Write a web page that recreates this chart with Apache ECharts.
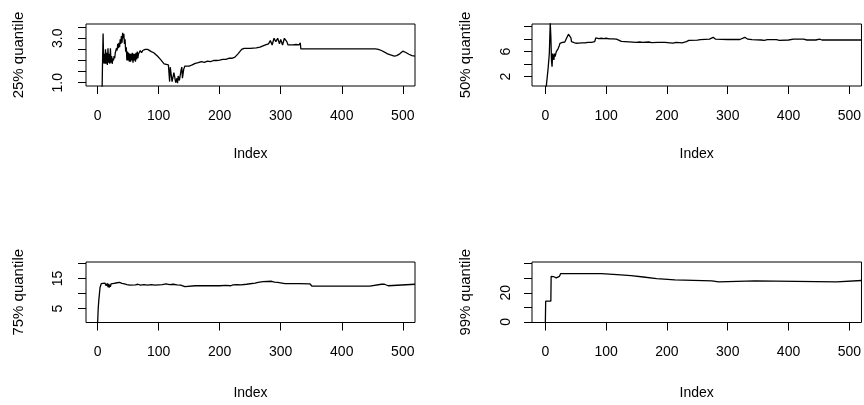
<!DOCTYPE html>
<html>
<head>
<meta charset="utf-8">
<script src="https://cdn.jsdelivr.net/npm/echarts@6/dist/echarts.min.js"></script>
<style>
html,body{margin:0;padding:0;background:#fff;}
#chart{width:864px;height:405px;}
</style>
</head>
<body>
<div id="chart"></div>
<script>
// ---- data (index, value) ----
const q25 = [[1,0],[7,0],[8,1.8],[9,3.22],[10,1.87],[11,2.3],[12,1.85],[13,2.5],[14,1.85],[15,2.35],[16,1.8],[17,2.55],[18,1.9],[19,2.3],[20,1.85],[21,2.55],[22,1.9],[23,2.2],[24,1.85],[25,2.1],[26,2.0],[27,2.2],[28,2.1],[29,2.35],[30,2.3],[31,2.55],[32,2.45],[33,2.75],[34,2.55],[35,2.8],[36,2.6],[37,2.95],[38,2.75],[39,3.1],[40,2.8],[41,3.25],[42,3.0],[43,3.2],[44,2.75],[45,2.95],[46,2.4],[47,2.6],[48,2.0],[49,2.4],[50,2.0],[51,2.35],[52,1.95],[53,2.3],[54,1.95],[55,2.3],[56,2.0],[57,2.35],[58,1.9],[59,2.3],[60,2.0],[61,2.3],[62,1.95],[63,2.35],[64,2.05],[65,2.4],[66,2.1],[67,2.3],[68,2.35],[70,2.45],[72,2.35],[74,2.45],[76,2.4],[78,2.5],[80,2.55],[82,2.5],[85,2.45],[88,2.4],[92,2.35],[95,2.3],[98,2.2],[100,2.15],[103,2.05],[106,1.95],[109,1.85],[112,1.8],[116,1.8],[118,1.05],[119,1.7],[121,1.72],[122,1.05],[124,1.05],[125,1.45],[127,1.45],[128,1.0],[130,1.2],[131,0.98],[132,1.3],[134,1.1],[135,1.05],[137,1.6],[138,1.7],[139,1.2],[140,1.4],[141,1.6],[143,1.75],[145,1.75],[150,1.75],[155,1.8],[158,1.85],[160,1.87],[163,1.84],[165,1.9],[170,1.95],[172,1.9],[175,1.92],[180,1.97],[183,1.93],[185,1.95],[190,2.0],[195,2.0],[198,1.97],[200,2.02],[205,2.05],[208,2.02],[210,2.05],[215,2.1],[220,2.1],[225,2.15],[230,2.3],[233,2.4],[236,2.5],[240,2.55],[250,2.55],[260,2.57],[266,2.6],[270,2.65],[275,2.7],[280,2.75],[283,2.9],[286,2.7],[289,3.0],[292,2.85],[295,3.0],[298,2.75],[300,2.95],[303,2.7],[306,3.0],[308,3.03],[310,2.85],[312,2.7],[315,2.75],[320,2.7],[325,2.72],[330,2.7],[332,2.8],[333,2.52],[380,2.52],[382,2.58],[384,2.52],[400,2.52],[402,2.49],[404,2.52],[440,2.52],[442,2.49],[444,2.52],[455,2.52],[460,2.5],[465,2.45],[470,2.38],[475,2.3],[480,2.25],[483,2.3],[486,2.2],[490,2.22],[495,2.3],[500,2.42],[505,2.36],[510,2.28],[515,2.22],[520,2.2]];

const q50 = [[1,0],[4,0],[4.5,3.3],[6,3.3],[6.5,5.7],[7.5,5.7],[8,10.6],[9,8.5],[10,4.7],[11,3.6],[12,5.7],[13,5.2],[14,4.7],[15,5.7],[16,5.2],[17,5.6],[18,6.0],[20,6.2],[21,6.5],[23,7.0],[24,7.34],[26,7.3],[28,7.5],[30,7.6],[32,7.55],[34,8.0],[36,8.4],[38,8.8],[41,8.8],[42,8.2],[43,7.6],[46,7.4],[50,7.35],[55,7.38],[60,7.4],[65,7.4],[70,7.5],[72,7.45],[76,7.5],[79,7.7],[81,7.6],[83,8.2],[88,8.1],[92,8.15],[96,8.1],[100,8.15],[105,8.05],[110,8.05],[117,8.0],[120,7.9],[125,7.65],[128,7.48],[150,7.48],[155,7.55],[160,7.48],[170,7.55],[175,7.45],[185,7.48],[197,7.48],[205,7.42],[210,7.38],[215,7.48],[225,7.42],[232,7.6],[236,7.8],[250,7.85],[255,7.92],[270,8.0],[276,8.3],[280,8.0],[300,7.95],[320,7.95],[328,8.3],[333,8.0],[340,7.92],[355,7.87],[360,7.8],[365,7.92],[380,7.92],[385,7.82],[400,7.87],[408,8.0],[425,8.0],[430,7.87],[445,7.87],[451,8.0],[455,7.87],[520,7.87]];

const q75 = [[0,0],[1,5],[2,7.8],[4,12],[6,13.3],[8,13.7],[12,13.5],[14,12.6],[16,13.4],[17,12.1],[18,13.2],[19,12.0],[20,13.0],[21,12.2],[22,13.2],[24,13.1],[27,13.4],[32,13.6],[36,13.7],[40,13.4],[44,13.2],[48,13.0],[50,12.4],[53,12.8],[56,13.0],[62,12.9],[66,13.1],[70,12.8],[76,13.0],[82,12.8],[88,13.0],[94,12.8],[100,12.9],[106,13.0],[112,13.2],[118,13.0],[124,13.1],[130,12.9],[136,12.8],[139,12.2],[143,12.3],[145,12.6],[160,12.6],[180,12.6],[200,12.6],[210,12.7],[218,12.6],[222,12.9],[228,13.0],[235,12.9],[244,13.1],[247,13.3],[258,13.5],[263,13.7],[271,14.0],[285,14.1],[290,13.8],[295,13.7],[307,13.3],[330,13.3],[348,13.2],[351,12.5],[414,12.5],[416,13.1],[418,12.5],[446,12.5],[448,13.1],[465,13.1],[467,12.6],[470,13.1],[476,12.6],[478,13.1],[520,13.1]];

const q99 = [[0,0],[0.5,14.2],[9,14.2],[9.5,31.3],[14,31.0],[16,29.7],[18,30.2],[20,29.8],[23,31.2],[25,33.1],[92,33.1],[93,32.4],[118,32.4],[119,31.8],[141,31.8],[142,30.8],[161,30.8],[162,29.7],[183,29.7],[184,28.8],[213,28.8],[214,28.1],[274,28.1],[276,27.4],[285,27.4],[287,28.1],[345,28.1],[347,27.4],[479,27.4],[481,28.4],[520,28.4]];

// tick values
const xTicks = [0,100,200,300,400,500];
const y25Ticks = [1,1.5,2,2.5,3,3.5], y25Labels = [1,3];
const y50Ticks = [2,4,6,8,10], y50Labels = [2,6];
const y75Ticks = [5,10,15,20], y75Labels = [5,15];
const y99Ticks = [0,10,20,30,40], y99Labels = [0,20];
const yNames = ['25% quantile','50% quantile','75% quantile','99% quantile'];

// ---- layout ----
const FONT = "'Liberation Sans', Arial, sans-serif";
const grids = [
  {left:86, top:24, width:329, height:62},
  {left:532, top:24, width:330, height:62},
  {left:86, top:262, width:329, height:60.5},
  {left:532, top:262, width:330, height:60.5}
];
const xNameGaps = [61,61,64,64];
const yLabelMargins = [21,19,21,19];
const yNameGaps = [60,59,60,59];
const xRanges = [[-19,520],[-22,520],[-19,520],[-22,520]];
const yRanges = [[0.851,3.644],[0.51,10.43],[0.33,20.53],[-0.41,41.1]];
const yTicks = [y25Ticks,y50Ticks,y75Ticks,y99Ticks];
const yLabs = [y25Labels,y50Labels,y75Labels,y99Labels];
const datas = [q25,q50,q75,q99];

const option = {
  animation:false,
  backgroundColor:'#fff',
  grid: grids.map(g => Object.assign({show:true, borderColor:'#000', borderWidth:1, backgroundColor:'transparent', containLabel:false}, g)),
  xAxis: grids.map((g,i) => ({
    type:'value', gridIndex:i, min:xRanges[i][0], max:xRanges[i][1],
    axisLine:{show:false, onZero:false},
    axisTick:{show:true, customValues:xTicks, length:8, lineStyle:{color:'#000', width:1}},
    axisLabel:{show:true, customValues:xTicks, fontSize:14, color:'#000', fontFamily:FONT, margin:23,
      formatter: v => String(v)},
    splitLine:{show:false},
    name:'Index', nameLocation:'middle', nameGap:xNameGaps[i],
    nameTextStyle:{fontSize:14, color:'#000', fontFamily:FONT}
  })),
  yAxis: grids.map((g,i) => ({
    type:'value', gridIndex:i, min:yRanges[i][0], max:yRanges[i][1],
    axisLine:{show:false, onZero:false},
    axisTick:{show:true, customValues:yTicks[i], length:8, lineStyle:{color:'#000', width:1}},
    axisLabel:{show:true, customValues:yLabs[i], rotate:90, fontSize:14, color:'#000', fontFamily:FONT, margin:yLabelMargins[i],
      formatter: v => (i===0 ? v.toFixed(1) : String(v))},
    splitLine:{show:false},
    name:yNames[i], nameLocation:'middle', nameGap:yNameGaps[i], nameRotate:90,
    nameTextStyle:{fontSize:15, color:'#000', fontFamily:FONT}
  })),
  series: datas.map((d,i) => ({
    type:'line', xAxisIndex:i, yAxisIndex:i, data:d, symbol:'none', clip:true,
    lineStyle:{color:'#000', width:1.3}, silent:true
  }))
};
const chart = echarts.init(document.getElementById('chart'), null, {renderer:'canvas'});
chart.setOption(option);
</script>
</body>
</html>
